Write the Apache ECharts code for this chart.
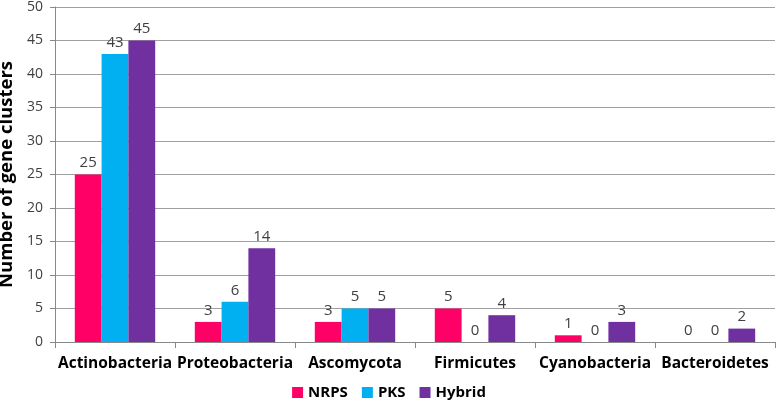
<!DOCTYPE html>
<html><head><meta charset="utf-8">
<script src="https://cdn.jsdelivr.net/npm/echarts@6/dist/echarts.min.js"></script>
<style>html,body{margin:0;padding:0;background:#fff}#c{width:778px;height:411px}</style>
</head><body><div id="c"></div>
<script>
var categories = ["Actinobacteria","Proteobacteria","Ascomycota","Firmicutes","Cyanobacteria","Bacteroidetes"];
var nrps = [25,3,3,5,1,0];
var pks = [43,6,5,0,0,0];
var hybrid = [45,14,5,4,3,2];
var seriesNames = ["NRPS","PKS","Hybrid"];
var colors = ["#FF0066","#00B0F0","#7030A0"];
var font = "'Open Sans', sans-serif";
var chart = echarts.init(document.getElementById('c'), null, {renderer:'canvas'});
function s(name, data, color){
  return {name:name, type:'bar', data:data, barGap:'0%', barCategoryGap:'33%',
    itemStyle:{color:color},
    label:{show:true, position:'top', distance:4, color:'#404040', fontFamily:font, fontSize:15}};
}
chart.setOption({
  animation:false,
  grid:{left:55, right:3, top:7, bottom:69, containLabel:false, outerBoundsMode:'none'},
  legend:{bottom:6, left:'center', itemWidth:11, itemHeight:11, itemGap:14, icon:'rect',
    textStyle:{fontFamily:font, fontSize:15, fontWeight:'bold', color:'#000'}},
  xAxis:{type:'category', data:categories,
    axisLine:{lineStyle:{color:'#888'}},
    axisTick:{show:true, length:6, lineStyle:{color:'#888'}},
    axisLabel:{fontFamily:font, fontSize:15.5, fontWeight:'bold', color:'#000', margin:14, interval:0}},
  yAxis:{type:'value', min:0, max:50, interval:5,
    name:'Number of gene clusters', nameLocation:'middle', nameGap:32,
    nameTextStyle:{fontFamily:font, fontSize:18.5, fontWeight:'bold', color:'#000'},
    axisLine:{show:true, lineStyle:{color:'#888'}},
    axisTick:{show:true, length:5, lineStyle:{color:'#888'}},
    axisLabel:{fontFamily:font, fontSize:14, color:'#404040', margin:12},
    splitLine:{lineStyle:{color:'#a0a0a0'}}},
  series:[s(seriesNames[0], nrps, colors[0]), s(seriesNames[1], pks, colors[1]), s(seriesNames[2], hybrid, colors[2])]
});
</script></body></html>
